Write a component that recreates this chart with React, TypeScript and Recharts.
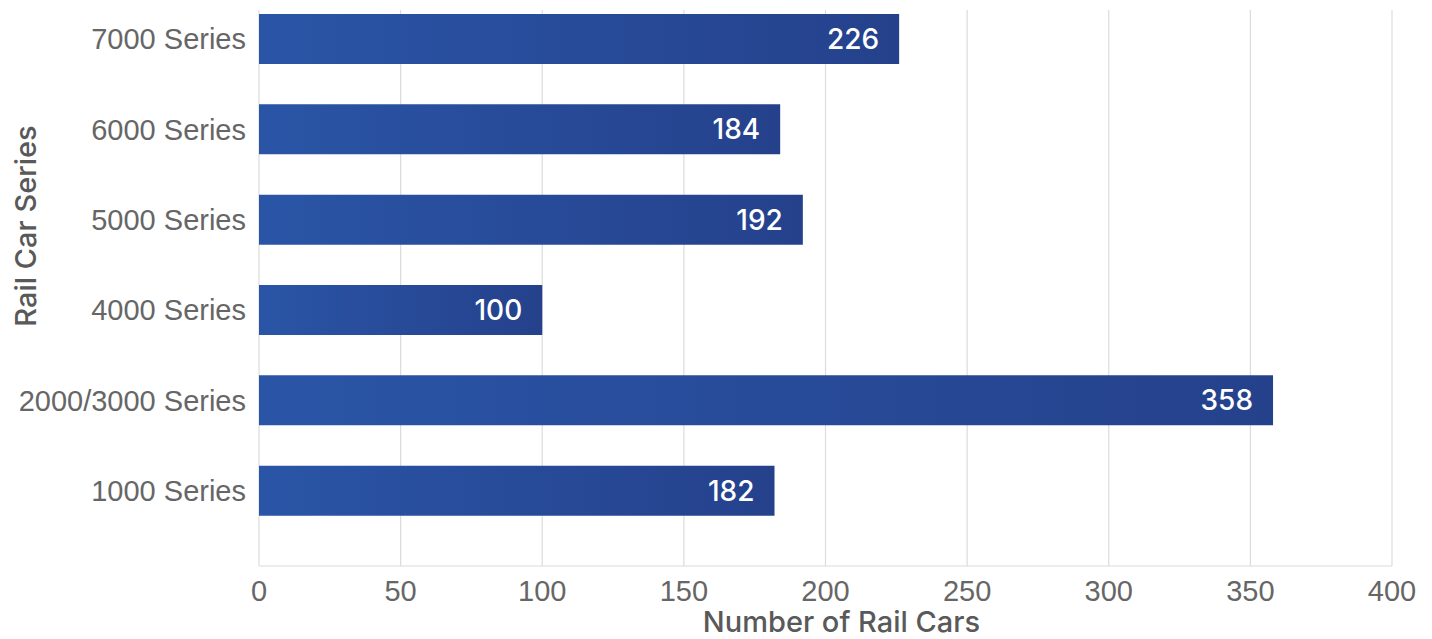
import React from 'react';
import { BarChart, Bar, XAxis, YAxis, CartesianGrid, LabelList, Label } from 'recharts';

const categories = ['7000 Series', '6000 Series', '5000 Series', '4000 Series', '2000/3000 Series', '1000 Series'];
const railCars = [226, 184, 192, 100, 358, 182];
const xTicks = [0, 50, 100, 150, 200, 250, 300, 350, 400];

const data = categories.map((name, i) => ({ name, value: railCars[i] }));

const FONT = '"Liberation Sans", Arial, sans-serif';
const FONT_MED = 'Inter, "Liberation Sans", Arial, sans-serif';

const YTitle = (props: any) => {
  const vb = props.viewBox || {};
  const x = 25;
  const y = vb.y + vb.height / 2 - 62;
  return (
    <text
      x={x}
      y={y}
      transform={`rotate(-90, ${x}, ${y})`}
      textAnchor="middle"
      dominantBaseline="central"
      fill="#595959"
      fontFamily={FONT_MED}
      fontSize={29}
      fontWeight={500}
    >
      Rail Car Series
    </text>
  );
};

const XTitle = (props: any) => {
  const vb = props.viewBox || {};
  const x = vb.x + vb.width / 2 + 16;
  const y = 621;
  return (
    <text
      x={x}
      y={y}
      textAnchor="middle"
      dominantBaseline="central"
      fill="#595959"
      fontFamily={FONT_MED}
      fontSize={29}
      fontWeight={500}
    >
      Number of Rail Cars
    </text>
  );
};

export default function App() {
  return (
    <div style={{ position: 'absolute', left: 0, top: 0, width: 1432, height: 639, background: '#fff' }}>
      <BarChart
        width={1432}
        height={639}
        data={data}
        layout="vertical"
        margin={{ top: 10, right: 40, bottom: 0, left: 0 }}
        barSize={50}
      >
        <defs>
          <linearGradient id="barGrad" x1="0" y1="0" x2="1" y2="0">
            <stop offset="0%" stopColor="#2A55A6" />
            <stop offset="100%" stopColor="#25418C" />
          </linearGradient>
        </defs>
        <CartesianGrid horizontal={false} vertical={true} stroke="#dcdcdc" strokeWidth={1.2} />
        <XAxis
          type="number"
          domain={[0, 400]}
          ticks={xTicks}
          tickLine={false}
          axisLine={{ stroke: '#dcdcdc', strokeWidth: 1.2 }}
          tick={{ fill: '#666666', fontFamily: FONT, fontSize: 29 }}
          tickMargin={8}
          height={73}
          interval={0}
        >
          <Label content={<XTitle />} />
        </XAxis>
        <YAxis
          type="category"
          dataKey="name"
          width={259}
          tickLine={false}
          axisLine={false}
          tick={{ fill: '#666666', fontFamily: FONT, fontSize: 29 }}
          tickMargin={7}
          padding={{ top: -16, bottom: 30 }}
          interval={0}
        >
          <Label content={<YTitle />} />
        </YAxis>
        <Bar dataKey="value" fill="url(#barGrad)" isAnimationActive={false}>
          <LabelList
            dataKey="value"
            position="insideRight"
            offset={20}
            fill="#ffffff"
            fontFamily={FONT_MED}
            fontSize={28}
            fontWeight={500}
          />
        </Bar>
      </BarChart>
    </div>
  );
}
